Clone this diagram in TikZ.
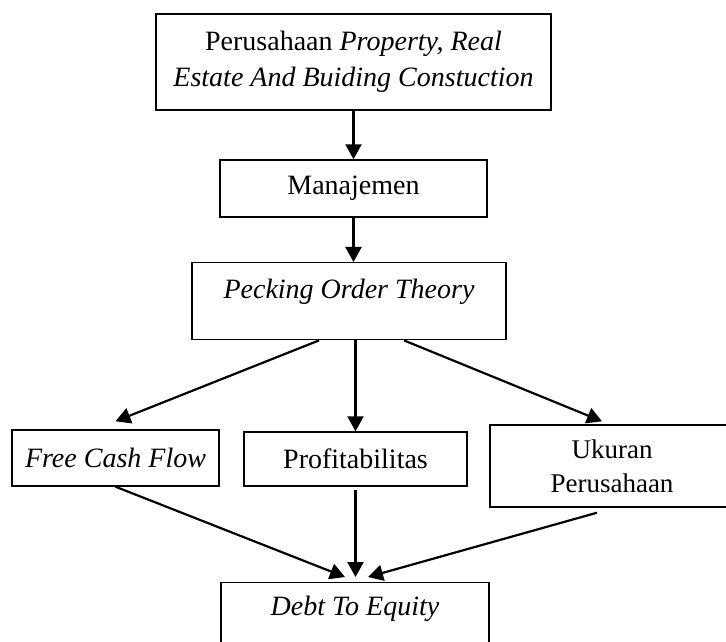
\documentclass[tikz,border=0pt]{standalone}
\usepackage{fontspec}
\setmainfont{Liberation Serif}
\usepackage{tikz}
\usetikzlibrary{arrows.meta}

\tikzset{
  kotak/.style={draw, line width=0.7pt, inner sep=0pt, align=center,
    font=\fontsize{14}{18}\selectfont},
  panah/.style={line width=1.1pt, -{Triangle[length=7.5pt,width=8pt]}}
}

\begin{document}
\begin{tikzpicture}[x=0.5pt, y=-0.5pt]
            \useasboundingbox (0,0) rectangle (726,641);
            \clip (0,0) rectangle (726,641);
            % kotak-kotak
            \node[kotak, minimum width=197.5pt, minimum height=48pt] (prop) at (353.5,62)
                {Perusahaan \textit{Property, Real}\\ \textit{Estate And Buiding Constuction}};
            \node[kotak, minimum width=133.5pt, minimum height=28.5pt] (mgmt) at (353.5,188.5) {Manajemen};
            \node[kotak, anchor=north, minimum width=157pt, inner ysep=4pt,
                  text height=14pt, text depth=16.5pt] (pot) at (349,262) {\textit{Pecking Order Theory}};
            \node[kotak, minimum width=103.5pt, minimum height=28pt] (fcf) at (115.5,458) {\textit{Free Cash Flow}};
            \node[kotak, minimum width=111.5pt, minimum height=27pt] (prof) at (355.5,459) {Profitabilitas};
            \node[kotak, minimum width=122pt, minimum height=41pt,
                  font=\fontsize{13.5}{17}\selectfont] (uk) at (612,466) {Ukuran\\ Perusahaan};
            \node[kotak, anchor=north, minimum width=134pt, inner ysep=4pt,
                  text height=12.5pt, text depth=18.5pt] (dte) at (355,582) {\textit{Debt To Equity}};
            % panah
            \draw[panah] (prop.south) -- (mgmt.north);
            \draw[panah] (mgmt.south) -- (mgmt.south |- pot.north);
            \draw[panah] ([xshift=-15pt]pot.south) -- ([yshift=4pt]fcf.north);
            \draw[panah] (pot.south -| prof.north) -- (prof.north);
            \draw[panah] ([xshift=27.5pt]pot.south) -- ([xshift=-5pt,yshift=1.5pt]uk.north);
            \draw[panah] (fcf.south) -- ([xshift=-5pt,yshift=2.5pt]dte.north);
            \draw[panah] ([yshift=-1.5pt]prof.south) -- ([yshift=2.5pt]prof.south |- dte.north);
            \draw[panah] ([xshift=-7.5pt,yshift=-2.5pt]uk.south) -- ([xshift=6.5pt,yshift=2.5pt]dte.north);
        \end{tikzpicture}
\end{document}
